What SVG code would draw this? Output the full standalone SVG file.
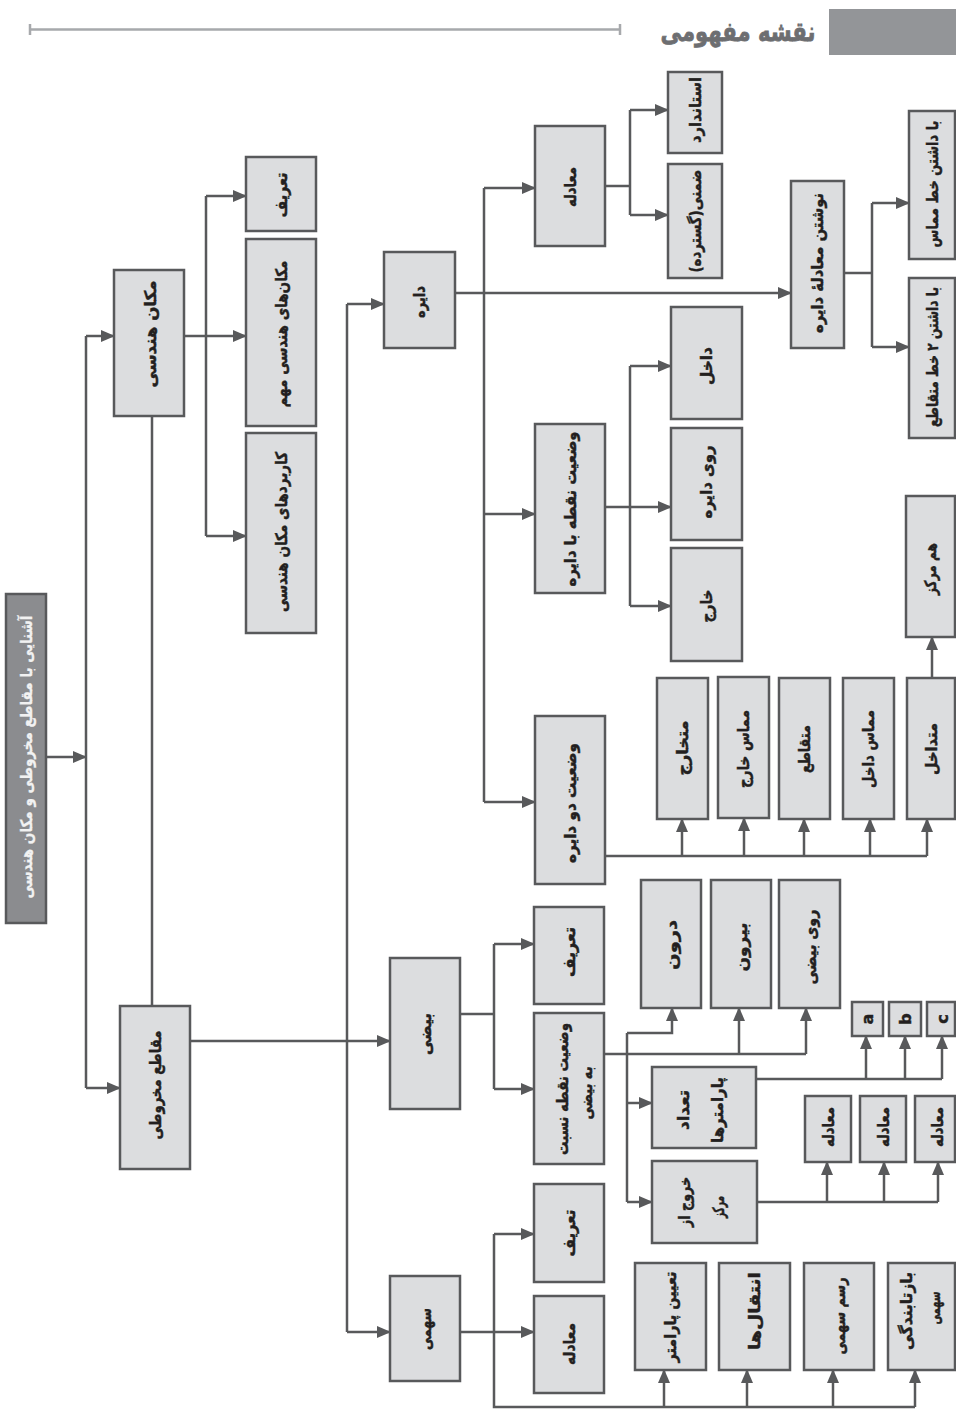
<svg xmlns="http://www.w3.org/2000/svg" width="956" height="1409" viewBox="0 0 956 1409">
<style>
.bx{fill:#dcdddf;stroke:#58595b;stroke-width:2.5}
.root{fill:#8b8c8f;stroke:#58595b;stroke-width:2.5}
.t{font-family:"DejaVu Sans","Noto Sans",sans-serif;font-size:16px;font-weight:bold;fill:#231f20;stroke:#231f20;stroke-width:0.45;text-anchor:middle;dominant-baseline:central}
.tw{fill:#f2f2f2;stroke:#f2f2f2;stroke-width:0.3}
.ln{fill:none;stroke:#58595b;stroke-width:2.5}
.ar{fill:none;stroke:#58595b;stroke-width:2.5;marker-end:url(#ah)}
</style>
<defs>
<marker id="ah" markerUnits="userSpaceOnUse" markerWidth="14" markerHeight="12" refX="13" refY="6" orient="auto">
<path d="M0,0 L14,6 L0,12 z" fill="#58595b"/>
</marker>
</defs>
<rect width="956" height="1409" fill="#ffffff"/>
<g id="header">
<rect x="829" y="9" width="127" height="46" fill="#939598"/>
<text x="738" y="41" font-family="DejaVu Sans,sans-serif" font-size="27" font-weight="bold" fill="#6d6e71" stroke="#6d6e71" stroke-width="0.8" text-anchor="middle" textLength="155" lengthAdjust="spacingAndGlyphs">نقشه مفهومی</text>
<path d="M30,29.5 H620 M30,24 V35 M620,24 V35" fill="none" stroke="#a7a9ac" stroke-width="2.5"/>
</g>
<g id="connectors">
<path class="ar" d="M46,757 H86"/>
<path class="ln" d="M86,336 V1088"/>
<path class="ar" d="M86,336 H114"/>
<path class="ar" d="M86,1088 H120"/>
<path class="ln" d="M152,416 V1006"/>
<path class="ar" d="M184,336 H246"/>
<path class="ln" d="M206,196 V536"/>
<path class="ar" d="M206,196 H246"/>
<path class="ar" d="M206,536 H246"/>
<path class="ar" d="M190,1041 H390"/>
<path class="ln" d="M347,304 V1332"/>
<path class="ar" d="M347,304 H384"/>
<path class="ar" d="M347,1332 H390"/>
<path class="ar" d="M455,293 H791"/>
<path class="ln" d="M484,188 V802"/>
<path class="ar" d="M484,188 H535"/>
<path class="ar" d="M484,514 H535"/>
<path class="ar" d="M484,802 H535"/>
<path class="ln" d="M605,186 H630 M630,110 V215"/>
<path class="ar" d="M630,110 H668"/>
<path class="ar" d="M630,215 H668"/>
<path class="ar" d="M605,507 H671"/>
<path class="ln" d="M630,366 V606"/>
<path class="ar" d="M630,366 H671"/>
<path class="ar" d="M630,606 H671"/>
<path class="ln" d="M605,856 H927"/>
<path class="ar" d="M682,856 V819"/>
<path class="ar" d="M744,856 V818"/>
<path class="ar" d="M804,856 V819"/>
<path class="ar" d="M870,856 V819"/>
<path class="ar" d="M927,856 V819"/>
<path class="ar" d="M932,678 V637"/>
<path class="ln" d="M844,273 H872 M872,203 V347"/>
<path class="ar" d="M872,203 H909"/>
<path class="ar" d="M872,347 H909"/>
<path class="ln" d="M460,1014 H494 M494,944 V1089"/>
<path class="ar" d="M494,944 H534"/>
<path class="ar" d="M494,1089 H534"/>
<path class="ln" d="M604,1054 H806"/>
<path class="ar" d="M739,1054 V1008"/>
<path class="ar" d="M806,1054 V1008"/>
<path class="ln" d="M627,1202 V1033"/>
<path class="ar" d="M627,1033 H672 V1008"/>
<path class="ar" d="M627,1103 H652"/>
<path class="ar" d="M627,1202 H652"/>
<path class="ln" d="M756,1079 H942"/>
<path class="ar" d="M866,1079 V1036"/>
<path class="ar" d="M905,1079 V1036"/>
<path class="ar" d="M942,1079 V1036"/>
<path class="ln" d="M757,1202 H938"/>
<path class="ar" d="M827,1202 V1162"/>
<path class="ar" d="M884,1202 V1162"/>
<path class="ar" d="M938,1202 V1162"/>
<path class="ar" d="M460,1332 H534"/>
<path class="ln" d="M494,1234 V1407 H915"/>
<path class="ar" d="M494,1234 H534"/>
<path class="ar" d="M664,1407 V1370"/>
<path class="ar" d="M747,1407 V1370"/>
<path class="ar" d="M833,1407 V1370"/>
<path class="ar" d="M915,1407 V1370"/>
</g>
<g id="n_root"><rect class="root" x="6" y="594" width="40" height="329"/><text class="t tw" transform="translate(26,757) rotate(-90)" textLength="283" lengthAdjust="spacingAndGlyphs">آشنایی با مقاطع مخروطی و مکان هندسی</text></g>
<g id="n_makan"><rect class="bx" x="114" y="270" width="70" height="146"/><text class="t" transform="translate(150,334) rotate(-90)" textLength="107" lengthAdjust="spacingAndGlyphs">مکان هندسی</text></g>
<g id="n_tarif1"><rect class="bx" x="246" y="157" width="70" height="74"/><text class="t" transform="translate(281,195) rotate(-90)" textLength="45" lengthAdjust="spacingAndGlyphs">تعریف</text></g>
<g id="n_makanha"><rect class="bx" x="246" y="239" width="70" height="187"/><text class="t" transform="translate(281,334) rotate(-90)" textLength="147" lengthAdjust="spacingAndGlyphs">مکان‌های هندسی مهم</text></g>
<g id="n_karbord"><rect class="bx" x="246" y="433" width="70" height="200"/><text class="t" transform="translate(281,532) rotate(-90)" textLength="160" lengthAdjust="spacingAndGlyphs">کاربردهای مکان هندسی</text></g>
<g id="n_maghate"><rect class="bx" x="120" y="1006" width="70" height="163"/><text class="t" transform="translate(155,1085) rotate(-90)" textLength="109" lengthAdjust="spacingAndGlyphs">مقاطع مخروطی</text></g>
<g id="n_dayere"><rect class="bx" x="384" y="252" width="71" height="96"/><text class="t" transform="translate(419,302) rotate(-90)" textLength="32" lengthAdjust="spacingAndGlyphs">دایره</text></g>
<g id="n_moadele1"><rect class="bx" x="535" y="126" width="70" height="120"/><text class="t" transform="translate(570,187) rotate(-90)" textLength="40" lengthAdjust="spacingAndGlyphs">معادله</text></g>
<g id="n_standard"><rect class="bx" x="668" y="72" width="54" height="81"/><text class="t" transform="translate(695,110) rotate(-90)" textLength="66" lengthAdjust="spacingAndGlyphs">استاندارد</text></g>
<g id="n_zemni"><rect class="bx" x="668" y="164" width="54" height="114"/><text class="t" transform="translate(695,221) rotate(-90)" textLength="103" lengthAdjust="spacingAndGlyphs">ضمنی(گسترده)</text></g>
<g id="n_vaziat_noghte"><rect class="bx" x="535" y="424" width="70" height="169"/><text class="t" transform="translate(570,509) rotate(-90)" textLength="155" lengthAdjust="spacingAndGlyphs">وضعیت نقطه با دایره</text></g>
<g id="n_dakhel"><rect class="bx" x="671" y="307" width="71" height="112"/><text class="t" transform="translate(706,366) rotate(-90)" textLength="38" lengthAdjust="spacingAndGlyphs">داخل</text></g>
<g id="n_rooye_dayere"><rect class="bx" x="671" y="428" width="71" height="112"/><text class="t" transform="translate(706,482) rotate(-90)" textLength="73" lengthAdjust="spacingAndGlyphs">روی دایره</text></g>
<g id="n_kharej"><rect class="bx" x="671" y="548" width="71" height="113"/><text class="t" transform="translate(706,606) rotate(-90)" textLength="33" lengthAdjust="spacingAndGlyphs">خارج</text></g>
<g id="n_vaziat_do"><rect class="bx" x="535" y="716" width="70" height="168"/><text class="t" transform="translate(570,803) rotate(-90)" textLength="120" lengthAdjust="spacingAndGlyphs">وضعیت دو دایره</text></g>
<g id="n_neveshtan"><rect class="bx" x="791" y="181" width="53" height="167"/><text class="t" transform="translate(817,263) rotate(-90)" textLength="140" lengthAdjust="spacingAndGlyphs">نوشتن معادلهٔ دایره</text></g>
<g id="n_mamas"><rect class="bx" x="909" y="111" width="46" height="148"/><text class="t" transform="translate(932,184) rotate(-90)" textLength="127" lengthAdjust="spacingAndGlyphs">با داشتن خط مماس</text></g>
<g id="n_2khat"><rect class="bx" x="909" y="278" width="46" height="160"/><text class="t" transform="translate(932,357) rotate(-90)" textLength="140" lengthAdjust="spacingAndGlyphs">با داشتن ۲ خط متقاطع</text></g>
<g id="n_hammarkaz"><rect class="bx" x="906" y="496" width="49" height="141"/><text class="t" transform="translate(930,569) rotate(-90)" textLength="52" lengthAdjust="spacingAndGlyphs">هم مرکز</text></g>
<g id="n_motekharej"><rect class="bx" x="657" y="678" width="51" height="141"/><text class="t" transform="translate(682,748) rotate(-90)" textLength="55" lengthAdjust="spacingAndGlyphs">متخارج</text></g>
<g id="n_mamas_kharej"><rect class="bx" x="718" y="677" width="51" height="141"/><text class="t" transform="translate(743,749) rotate(-90)" textLength="78" lengthAdjust="spacingAndGlyphs">مماس خارج</text></g>
<g id="n_motaghate"><rect class="bx" x="779" y="678" width="51" height="141"/><text class="t" transform="translate(804,749) rotate(-90)" textLength="48" lengthAdjust="spacingAndGlyphs">متقاطع</text></g>
<g id="n_mamas_dakhel"><rect class="bx" x="843" y="678" width="51" height="141"/><text class="t" transform="translate(868,749) rotate(-90)" textLength="78" lengthAdjust="spacingAndGlyphs">مماس داخل</text></g>
<g id="n_motadakhel"><rect class="bx" x="907" y="678" width="48" height="141"/><text class="t" transform="translate(931,749) rotate(-90)" textLength="52" lengthAdjust="spacingAndGlyphs">متداخل</text></g>
<g id="n_beyzi"><rect class="bx" x="390" y="958" width="70" height="151"/><text class="t" transform="translate(425,1034) rotate(-90)" textLength="42" lengthAdjust="spacingAndGlyphs">بیضی</text></g>
<g id="n_tarif2"><rect class="bx" x="534" y="907" width="70" height="97"/><text class="t" transform="translate(569,952) rotate(-90)" textLength="50" lengthAdjust="spacingAndGlyphs">تعریف</text></g>
<g id="n_vaziat_beyzi"><rect class="bx" x="534" y="1013" width="70" height="151"/><text class="t" transform="translate(562,1089) rotate(-90)" textLength="132" lengthAdjust="spacingAndGlyphs">وضعیت نقطه نسبت</text><text class="t" transform="translate(586,1093) rotate(-90)" textLength="53" lengthAdjust="spacingAndGlyphs">به بیضی</text></g>
<g id="n_daroon"><rect class="bx" x="641" y="880" width="60" height="128"/><text class="t" transform="translate(671,945) rotate(-90)" textLength="50" lengthAdjust="spacingAndGlyphs">درون</text></g>
<g id="n_biroon"><rect class="bx" x="711" y="880" width="60" height="128"/><text class="t" transform="translate(741,947) rotate(-90)" textLength="49" lengthAdjust="spacingAndGlyphs">بیرون</text></g>
<g id="n_rooye_beyzi"><rect class="bx" x="779" y="880" width="61" height="128"/><text class="t" transform="translate(810,947) rotate(-90)" textLength="75" lengthAdjust="spacingAndGlyphs">روی بیضی</text></g>
<g id="n_a"><rect class="bx" x="852" y="1002" width="31" height="34"/><text class="t" transform="translate(867,1019) rotate(-90)">a</text></g>
<g id="n_b"><rect class="bx" x="889" y="1002" width="32" height="34"/><text class="t" transform="translate(905,1019) rotate(-90)">b</text></g>
<g id="n_c"><rect class="bx" x="927" y="1002" width="28" height="34"/><text class="t" transform="translate(942,1019) rotate(-90)">c</text></g>
<g id="n_tedad"><rect class="bx" x="652" y="1067" width="104" height="81"/><text class="t" transform="translate(683,1110) rotate(-90)" textLength="40" lengthAdjust="spacingAndGlyphs">تعداد</text><text class="t" transform="translate(717,1110) rotate(-90)" textLength="66" lengthAdjust="spacingAndGlyphs">پارامترها</text></g>
<g id="n_khorooj"><rect class="bx" x="652" y="1161" width="105" height="82"/><text class="t" transform="translate(684,1202) rotate(-90)" textLength="50" lengthAdjust="spacingAndGlyphs">خروج از</text><text class="t" transform="translate(718,1207) rotate(-90)" textLength="22" lengthAdjust="spacingAndGlyphs">مرکز</text></g>
<g id="n_moadele_a"><rect class="bx" x="805" y="1096" width="46" height="66"/><text class="t" transform="translate(828,1127) rotate(-90)" textLength="40" lengthAdjust="spacingAndGlyphs">معادله</text></g>
<g id="n_moadele_b"><rect class="bx" x="860" y="1096" width="46" height="66"/><text class="t" transform="translate(883,1127) rotate(-90)" textLength="40" lengthAdjust="spacingAndGlyphs">معادله</text></g>
<g id="n_moadele_c"><rect class="bx" x="915" y="1096" width="40" height="66"/><text class="t" transform="translate(937,1127) rotate(-90)" textLength="40" lengthAdjust="spacingAndGlyphs">معادله</text></g>
<g id="n_sahmi"><rect class="bx" x="390" y="1276" width="70" height="105"/><text class="t" transform="translate(425,1329) rotate(-90)" textLength="42" lengthAdjust="spacingAndGlyphs">سهمی</text></g>
<g id="n_tarif3"><rect class="bx" x="534" y="1184" width="70" height="98"/><text class="t" transform="translate(569,1233) rotate(-90)" textLength="47" lengthAdjust="spacingAndGlyphs">تعریف</text></g>
<g id="n_moadele3"><rect class="bx" x="534" y="1296" width="70" height="97"/><text class="t" transform="translate(569,1344) rotate(-90)" textLength="42" lengthAdjust="spacingAndGlyphs">معادله</text></g>
<g id="n_tayin"><rect class="bx" x="635" y="1263" width="71" height="107"/><text class="t" transform="translate(670,1317) rotate(-90)" textLength="91" lengthAdjust="spacingAndGlyphs">تعیین پارامتر</text></g>
<g id="n_enteghal"><rect class="bx" x="719" y="1263" width="71" height="107"/><text class="t" transform="translate(754,1311) rotate(-90)" textLength="78" lengthAdjust="spacingAndGlyphs">انتقال‌ها</text></g>
<g id="n_rasm"><rect class="bx" x="804" y="1263" width="70" height="107"/><text class="t" transform="translate(839,1316) rotate(-90)" textLength="77" lengthAdjust="spacingAndGlyphs">رسم سهمی</text></g>
<g id="n_baztab"><rect class="bx" x="888" y="1263" width="67" height="107"/><text class="t" transform="translate(906,1311) rotate(-90)" textLength="78" lengthAdjust="spacingAndGlyphs">بازتابندگی</text><text class="t" transform="translate(934,1308) rotate(-90)" textLength="33" lengthAdjust="spacingAndGlyphs">سهمی</text></g>
</svg>
